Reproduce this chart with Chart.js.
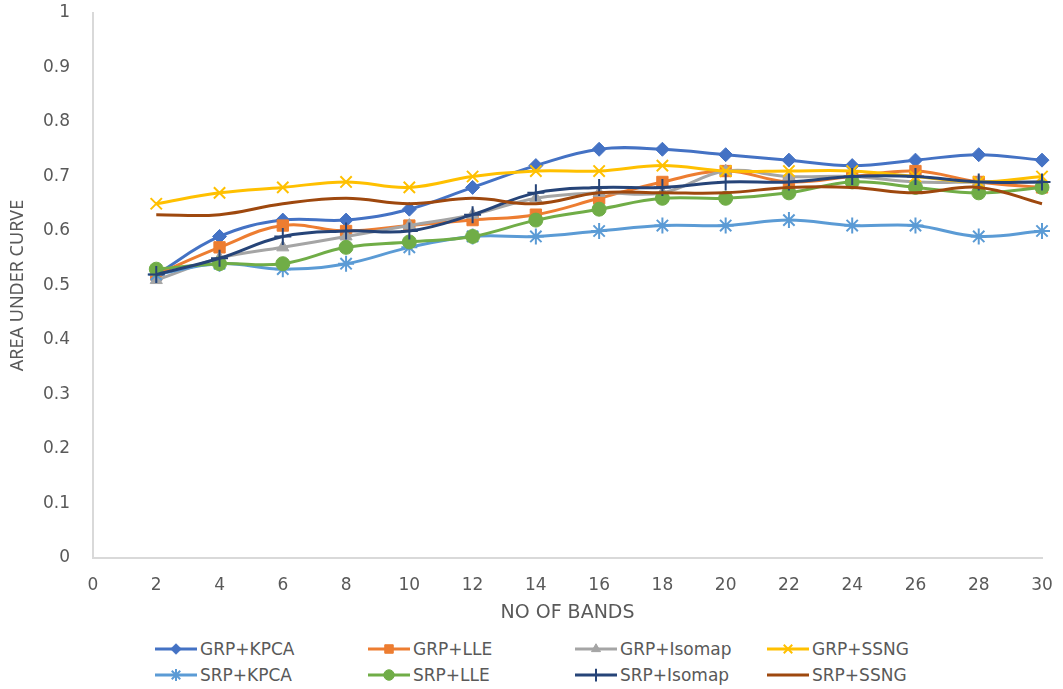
<!DOCTYPE html>
<html>
<head>
<meta charset="utf-8">
<script src="https://cdn.jsdelivr.net/npm/chart.js@4.4.0/dist/chart.umd.min.js"></script>
<style>
body { margin: 0; background: #fff; }
#wrap { position: relative; width: 1063px; height: 689px; }
#box { position: absolute; left: 0; top: 0; width: 1063px; height: 630px; }
#legend { position: absolute; left: 0; top: 636px; width: 1063px; height: 53px;
  font-family: "DejaVu Sans"; font-size: 17px; color: #595959; }
.item { position: absolute; height: 26px; display: flex; align-items: center; white-space: nowrap; }
.item canvas { margin-right: 3px; }
</style>
</head>
<body>
<div id="wrap">
  <div id="box"><canvas id="chart"></canvas></div>
  <div id="legend"></div>
</div>
<script>
// data
const bands = [2, 4, 6, 8, 10, 12, 14, 16, 18, 20, 22, 24, 26, 28, 30];

const grpKpca   = [0.52, 0.59, 0.62, 0.62, 0.64, 0.68, 0.72, 0.75, 0.75, 0.74, 0.73, 0.72, 0.73, 0.74, 0.73];
const grpLle    = [0.52, 0.57, 0.61, 0.60, 0.61, 0.62, 0.63, 0.66, 0.69, 0.71, 0.69, 0.70, 0.71, 0.69, 0.68];
const grpIsomap = [0.51, 0.55, 0.57, 0.59, 0.61, 0.63, 0.66, 0.67, 0.67, 0.71, 0.70, 0.70, 0.69, 0.69, 0.69];
const grpSsng   = [0.65, 0.67, 0.68, 0.69, 0.68, 0.70, 0.71, 0.71, 0.72, 0.71, 0.71, 0.71, 0.70, 0.69, 0.70];
const srpKpca   = [0.52, 0.54, 0.53, 0.54, 0.57, 0.59, 0.59, 0.60, 0.61, 0.61, 0.62, 0.61, 0.61, 0.59, 0.60];
const srpLle    = [0.53, 0.54, 0.54, 0.57, 0.58, 0.59, 0.62, 0.64, 0.66, 0.66, 0.67, 0.69, 0.68, 0.67, 0.68];
const srpIsomap = [0.52, 0.55, 0.59, 0.60, 0.60, 0.63, 0.67, 0.68, 0.68, 0.69, 0.69, 0.70, 0.70, 0.69, 0.69];
const srpSsng   = [0.63, 0.63, 0.65, 0.66, 0.65, 0.66, 0.65, 0.67, 0.67, 0.67, 0.68, 0.68, 0.67, 0.68, 0.65];

const seriesNames = ['GRP+KPCA', 'GRP+LLE', 'GRP+Isomap', 'GRP+SSNG', 'SRP+KPCA', 'SRP+LLE', 'SRP+Isomap', 'SRP+SSNG'];
const seriesValues = [grpKpca, grpLle, grpIsomap, grpSsng, srpKpca, srpLle, srpIsomap, srpSsng];

const xTicks = [0, 2, 4, 6, 8, 10, 12, 14, 16, 18, 20, 22, 24, 26, 28, 30];
const yTicks = [0, 0.1, 0.2, 0.3, 0.4, 0.5, 0.6, 0.7, 0.8, 0.9, 1];

// look
const colors = ['#4472C4', '#ED7D31', '#A5A5A5', '#FFC000', '#5B9BD5', '#70AD47', '#264478', '#9E480E'];
const markers = ['rectRot', 'rect', 'triangle', 'crossRot', 'star', 'circle', 'cross', false];
const markerSize = [7, 8, 7, 8, 8, 7, 8.5, 0];
const lineMarkers = ['crossRot', 'star', 'cross'];

Chart.defaults.font.family = 'DejaVu Sans';
Chart.defaults.color = '#595959';

const datasets = seriesNames.map((name, i) => ({
    label: name,
    data: bands.map((b, j) => ({ x: b, y: seriesValues[i][j] })),
    borderColor: colors[i],
    backgroundColor: colors[i],
    borderWidth: 3,
    tension: 0.4,
    pointStyle: markers[i],
    pointRadius: markerSize[i],
    pointBorderWidth: lineMarkers.includes(markers[i]) ? 2 : 1,
    pointBackgroundColor: colors[i],
    pointBorderColor: colors[i],
    order: seriesNames.length - 1 - i,
    clip: false
}));

const chart = document.querySelector('#chart').getContext('2d');

// tick distance from the axes is made with an invisible tick length,
// because ticks.padding also pushes the plot area inwards
new Chart(chart, {
    type: 'line',
    data: { datasets: datasets },
    options: {
        responsive: true,
        maintainAspectRatio: false,
        animation: false,
        layout: { padding: { left: 0, right: 21, top: 13, bottom: 0 } },
        plugins: {
            legend: { display: false },
            tooltip: { enabled: false }
        },
        scales: {
            x: {
                type: 'linear',
                min: 0,
                max: 30,
                afterBuildTicks: (scale) => { scale.ticks = xTicks.map(v => ({ value: v })); },
                afterFit: (scale) => { scale.height = 72; },
                ticks: { font: { size: 17 }, padding: 0, maxRotation: 0 },
                grid: { display: false, drawTicks: true, tickLength: 17 },
                border: { color: '#D9D9D9', width: 2 },
                title: { display: true, text: 'NO OF BANDS', font: { size: 19 }, padding: { top: 0, bottom: 6 } }
            },
            y: {
                min: 0,
                max: 1,
                afterBuildTicks: (scale) => { scale.ticks = yTicks.map(v => ({ value: v })); },
                afterFit: (scale) => { scale.width = 93; },
                ticks: { font: { size: 17 }, padding: 0, callback: (v) => String(Number(v.toFixed(1))) },
                grid: { display: false, drawTicks: true, tickLength: 23 },
                border: { color: '#D9D9D9', width: 2 },
                title: { display: true, text: 'AREA UNDER CURVE', font: { size: 18, family: 'Noto Sans' }, padding: { top: 7, bottom: 0 } }
            }
        }
    }
});

// legend in four columns, two rows, like the original
const legend = document.querySelector('#legend');
const colLeft = [155, 368, 575, 767];
seriesNames.forEach((name, i) => {
    const item = document.createElement('div');
    item.className = 'item';
    item.style.left = colLeft[i % 4] + 'px';
    item.style.top = (Math.floor(i / 4) * 26) + 'px';

    const sw = document.createElement('canvas');
    sw.width = 42;
    sw.height = 20;
    const ctx = sw.getContext('2d');
    ctx.strokeStyle = colors[i];
    ctx.fillStyle = colors[i];
    ctx.lineWidth = 3;
    ctx.beginPath();
    ctx.moveTo(0, 10);
    ctx.lineTo(42, 10);
    ctx.stroke();
    if (markers[i]) {
        ctx.lineWidth = lineMarkers.includes(markers[i]) ? 2 : 1;
        Chart.helpers.drawPoint(ctx, {
            pointStyle: markers[i],
            radius: markerSize[i] * 0.75,
            rotation: 0,
            borderWidth: ctx.lineWidth
        }, 21, 10);
    }
    item.appendChild(sw);

    const label = document.createElement('span');
    label.textContent = name;
    item.appendChild(label);
    legend.appendChild(item);
});
</script>
</body>
</html>
